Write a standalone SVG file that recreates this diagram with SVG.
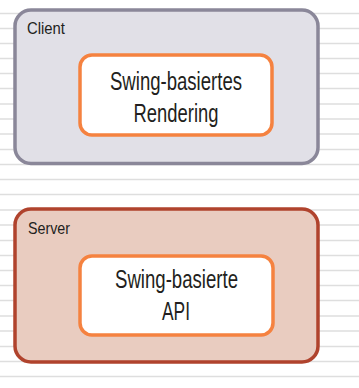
<svg xmlns="http://www.w3.org/2000/svg" width="359" height="388" viewBox="0 0 359 388">
<style>
.bg{stroke:#dedede;stroke-width:1.5}
.t{font-family:"Liberation Sans",Arial,sans-serif;fill:#231f20}
.lbl{font-size:17px}
.main{font-size:26px;text-anchor:middle}
.inner{fill:#ffffff;stroke:#f58240;stroke-width:3.5}
</style>
<rect width="359" height="388" fill="#ffffff"/>
<g id="background">
<path class="bg" d="M0 13.5H359M0 28.5H359M0 43.5H359M0 58.5H359M0 73.5H359M0 88.5H359M0 104H359M0 119H359M0 134H359M0 149.5H359M0 164.5H359M0 179.5H359M0 194.5H359M0 210H359M0 225H359M0 240.5H359M0 255.5H359M0 270.5H359M0 285.5H359M0 300.5H359M0 316H359M0 331H359M0 346.5H359M0 361.5H359M0 376.5H359"/>
</g>
<g id="client">
<rect x="15" y="10" width="303" height="153.5" rx="16" fill="#e1e0e7" stroke="#8a8799" stroke-width="3.5"/>
<text class="t lbl" x="27" y="34" textLength="38" lengthAdjust="spacingAndGlyphs">Client</text>
</g>
<g id="rendering">
<rect class="inner" x="80" y="55" width="192" height="80" rx="12"/>
<text class="t main" x="176" y="90" textLength="132" lengthAdjust="spacingAndGlyphs">Swing-basiertes</text>
<text class="t main" x="176" y="122" textLength="85" lengthAdjust="spacingAndGlyphs">Rendering</text>
</g>
<g id="server">
<rect x="15" y="209" width="303" height="153" rx="16" fill="#e9ccc0" stroke="#b0432d" stroke-width="3.5"/>
<text class="t lbl" x="28" y="234" textLength="42" lengthAdjust="spacingAndGlyphs">Server</text>
</g>
<g id="api">
<rect class="inner" x="80" y="256" width="193" height="79" rx="12"/>
<text class="t main" x="176.5" y="288" textLength="123" lengthAdjust="spacingAndGlyphs">Swing-basierte</text>
<text class="t main" x="176" y="320" textLength="28" lengthAdjust="spacingAndGlyphs">API</text>
</g>
<g id="connectors"/>
</svg>
